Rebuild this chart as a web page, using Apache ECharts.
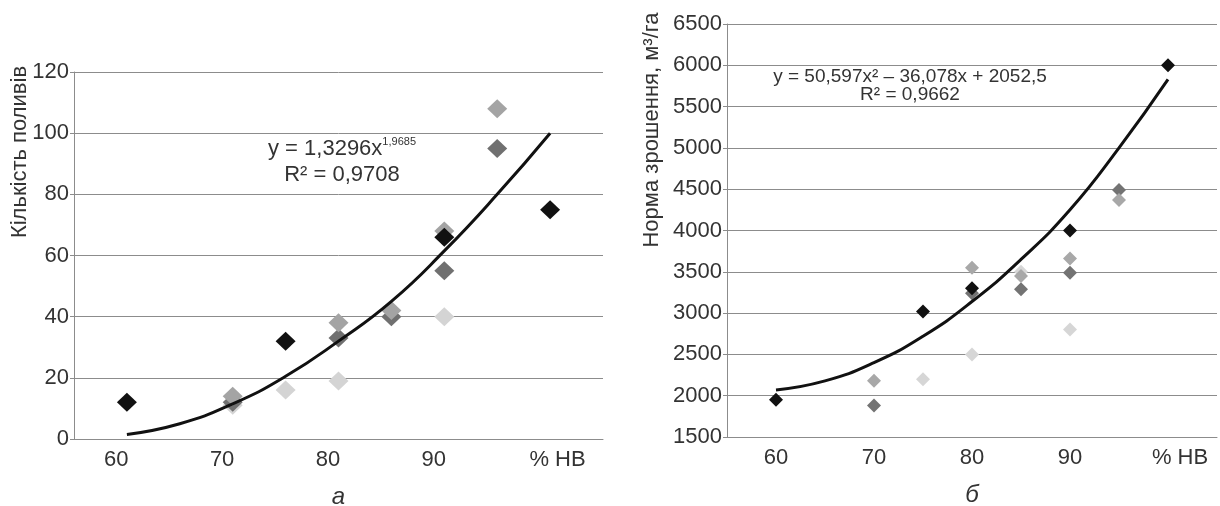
<!DOCTYPE html>
<html style="height: 100%">
<head>
	<meta charset="utf-8">
</head>
<body style="height: 100%; margin: 0; background: #fff">
<div id="container" style="width: 1220px; height: 506px"></div>
<script src="https://cdn.jsdelivr.net/npm/echarts@6/dist/echarts.min.js"></script>
<script type="text/javascript">
	// tick labels
	var xTicksA = [60, 70, 80, 90, 100];
	var xTicksB = [60, 70, 80, 90, 100];
	var lastTickName = '% НВ';

	// chart а: кількість поливів
	var aBlack = [[61, 12], [76, 32], [91, 66], [101, 75]];
	var aDark = [[71, 12], [81, 33], [86, 40], [91, 55], [96, 95]];
	var aMid = [[71, 14], [81, 38], [86, 42], [91, 68], [96, 108]];
	var aLight = [[71, 11], [76, 16], [81, 19], [91, 40]];
	var trendAX = [61, 66, 71, 76, 81, 86, 91, 96, 101];
	var trendAY = [1.5, 5, 11.5, 20.5, 32, 45, 61.5, 80, 100];

	// chart б: норма зрошення
	var bBlack = [[60, 1950], [75, 3020], [80, 3300], [90, 4000], [100, 6000]];
	var bDark = [[70, 1880], [80, 3240], [85, 3290], [90, 3490], [95, 4490]];
	var bMid = [[70, 2180], [80, 3550], [85, 3450], [90, 3660], [95, 4370]];
	var bLight = [[75, 2200], [80, 2500], [85, 3500], [90, 2800]];
	var trendBX = [60, 65, 70, 75, 80, 85, 90, 95, 100];
	var trendBY = [2070, 2180, 2400, 2720, 3140, 3650, 4250, 5000, 5830];

	var FONT = '"Liberation Sans", Arial, sans-serif';
	var TXT = '#333333';

	function zip(xs, ys) {
		var res = [];
		for (var i = 0; i < xs.length; i++) {
			res.push([xs[i], ys[i]]);
		}
		return res;
	}

	function xLabelFmt(v) {
		return v === 100 ? '{hb|' + lastTickName + '}' : String(v);
	}

	function makeX(idx, min, max, ticks, name, shift) {
		return {
			gridIndex: idx,
			type: 'value',
			min: min,
			max: max,
			splitLine: {show: false},
			axisTick: {show: false},
			axisLine: {show: true, lineStyle: {color: '#8c8c8c', width: 1}},
			axisLabel: {
				customValues: ticks,
				formatter: xLabelFmt,
				fontFamily: FONT,
				fontSize: 22,
				color: TXT,
				margin: 10,
				rich: {
					hb: {fontFamily: FONT, fontSize: 22, color: TXT, padding: [0, 0, 0, shift]}
				}
			},
			name: name,
			nameLocation: 'middle',
			nameGap: 46,
			nameTextStyle: {fontFamily: FONT, fontSize: 24, fontStyle: 'italic', color: TXT}
		};
	}

	function makeY(idx, min, max, step) {
		return {
			gridIndex: idx,
			type: 'value',
			min: min,
			max: max,
			interval: step,
			axisLine: {show: true, lineStyle: {color: '#8c8c8c', width: 1}},
			axisTick: {show: true, length: 4, lineStyle: {color: '#8c8c8c'}},
			splitLine: {show: true, lineStyle: {color: '#8c8c8c', width: 1}},
			axisLabel: {
				fontFamily: FONT, fontSize: 22, color: TXT, margin: 5,
				formatter: function (v) { return String(v); }
			}
		};
	}

	function dots(idx, data, color, size) {
		return {
			type: 'scatter',
			xAxisIndex: idx,
			yAxisIndex: idx,
			data: data,
			symbol: 'diamond',
			symbolSize: size,
			itemStyle: {color: color, opacity: 1},
			z: 2
		};
	}

	function trend(idx, data) {
		return {
			type: 'line',
			xAxisIndex: idx,
			yAxisIndex: idx,
			data: data,
			smooth: true,
			showSymbol: false,
			lineStyle: {color: '#111111', width: 3},
			z: 5
		};
	}

	var dom = document.getElementById('container');
	var myChart = echarts.init(dom, null, {renderer: 'canvas'});

	var option = {
		animation: false,
		backgroundColor: '#ffffff',
		grid: [
			{left: 74, right: 617, top: 72, bottom: 67, outerBoundsMode: 'none', containLabel: false},
			{left: 727, right: 3, top: 24, bottom: 69, outerBoundsMode: 'none', containLabel: false}
		],
		xAxis: [
			makeX(0, 56, 106, xTicksA, 'а', 36),
			makeX(1, 55, 105, xTicksB, 'б', 24)
		],
		yAxis: [
			makeY(0, 0, 120, 20),
			makeY(1, 1500, 6500, 500)
		],
		graphic: [
			{
				type: 'text', x: 20, y: 152, rotation: Math.PI / 2,
				style: {text: 'Кількість поливів', font: '22px ' + FONT, fill: TXT, align: 'center', verticalAlign: 'middle'}
			},
			{
				type: 'text', x: 652, y: 130, rotation: Math.PI / 2,
				style: {text: 'Норма зрошення, м³/га', font: '22px ' + FONT, fill: TXT, align: 'center', verticalAlign: 'middle'}
			},
			{
				type: 'text', x: 342, y: 162,
				style: {
					text: '{m|y = 1,3296x}{s|1,9685}\n{m|R² = 0,9708}',
					align: 'center', verticalAlign: 'middle',
					rich: {
						m: {font: '22px ' + FONT, fill: TXT, lineHeight: 26},
						s: {font: '11px ' + FONT, fill: TXT, lineHeight: 26, verticalAlign: 'top'}
					}
				}
			},
			{
				type: 'text', x: 910, y: 86,
				style: {
					text: 'y = 50,597x² – 36,078x + 2052,5\nR² = 0,9662',
					font: '19px ' + FONT, fill: TXT, lineHeight: 18,
					align: 'center', verticalAlign: 'middle'
				}
			}
		],
		series: [
			dots(0, aLight, '#d4d4d4', [20, 19]),
			dots(0, aDark, '#707070', [20, 19]),
			dots(0, aMid, '#a4a4a4', [20, 19]),
			dots(0, aBlack, '#111111', [20, 19]),
			trend(0, zip(trendAX, trendAY)),
			dots(1, bLight, '#d6d6d6', 14),
			dots(1, bDark, '#737373', 14),
			dots(1, bMid, '#a8a8a8', 14),
			dots(1, bBlack, '#111111', 14),
			trend(1, zip(trendBX, trendBY))
		]
	};

	myChart.setOption(option, true);
</script>
</body>
</html>
